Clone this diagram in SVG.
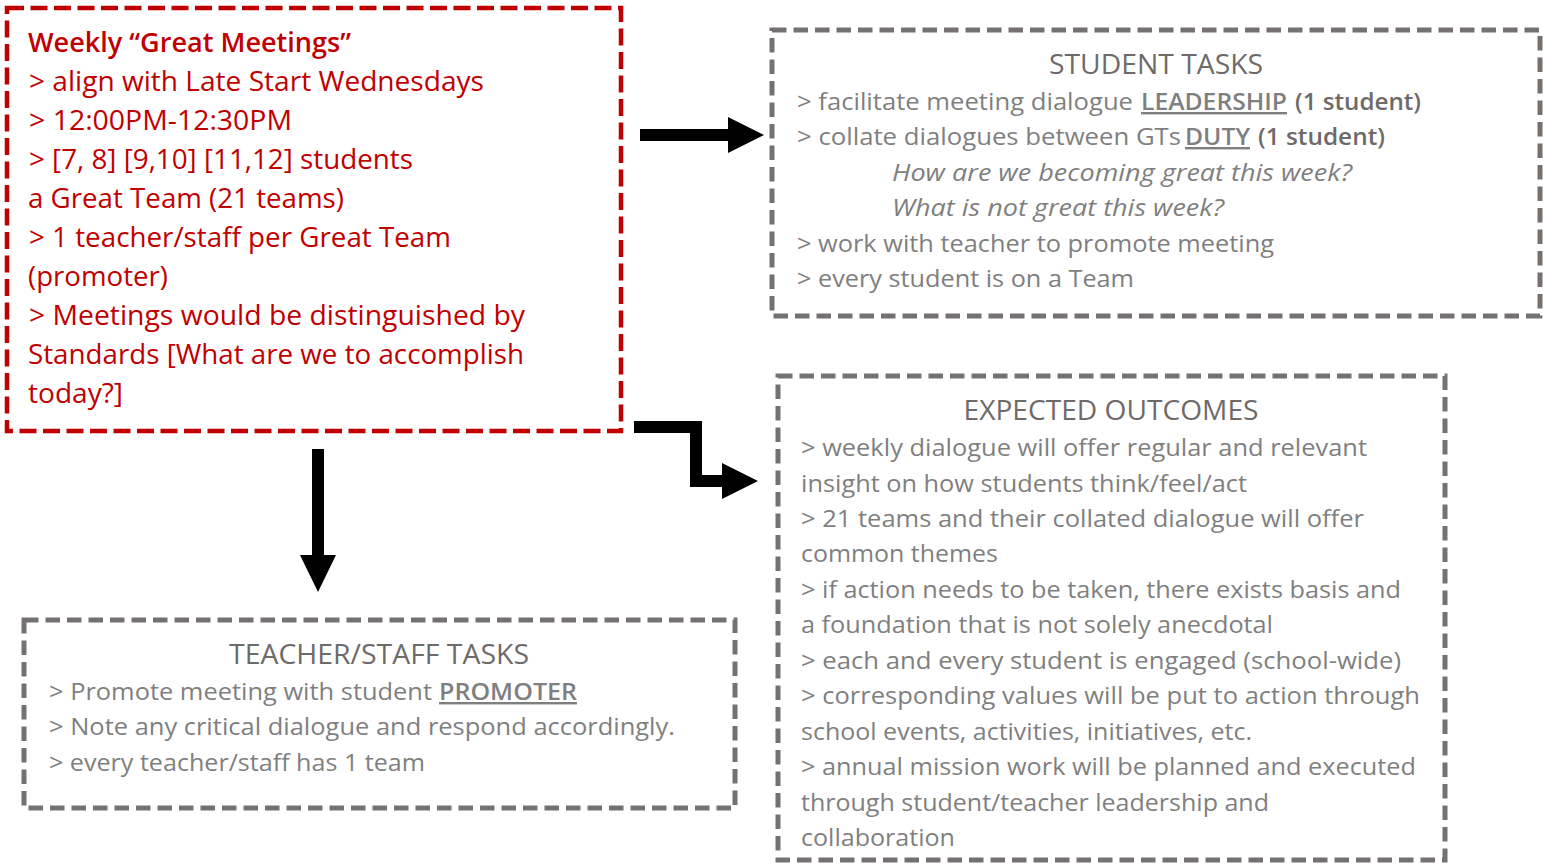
<svg xmlns="http://www.w3.org/2000/svg" width="1543" height="864" viewBox="0 0 1543 864">
<style>
text{font-family:"Open Sans","Noto Sans","Liberation Sans",sans-serif;}
.red{fill:#C00000;font-size:27px;}
.redb{fill:#C00000;font-size:27px;font-weight:600;}
.gt{fill:#6E6A6A;font-size:28px;}
.g{fill:#7F7F7F;font-size:24px;}
.gb{fill:#6E6A6A;font-size:24px;font-weight:600;}
.gu{fill:#7F7F7F;font-size:24px;font-weight:600;text-decoration:underline;}
.gi{fill:#7F7F7F;font-size:24px;font-style:italic;}
.boxr{fill:none;stroke:#C00000;stroke-width:4.5;stroke-dasharray:17 6.5;}
.boxg{fill:none;stroke:#767171;stroke-width:5;stroke-dasharray:14.5 7;}
.arrow{fill:#000;}
</style>
<rect width="1543" height="864" fill="#fff"/>
<g id="meetings">
<rect class="boxr" x="7" y="8" width="614" height="423"/>
<text class="redb" x="28" y="52" textLength="323" lengthAdjust="spacingAndGlyphs">Weekly “Great Meetings”</text>
<text class="red" x="29" y="91" textLength="455" lengthAdjust="spacingAndGlyphs">&gt; align with Late Start Wednesdays</text>
<text class="red" x="29" y="130" textLength="263" lengthAdjust="spacingAndGlyphs">&gt; 12:00PM-12:30PM</text>
<text class="red" x="29" y="169" textLength="384" lengthAdjust="spacingAndGlyphs">&gt; [7, 8] [9,10] [11,12] students</text>
<text class="red" x="28" y="208" textLength="316" lengthAdjust="spacingAndGlyphs">a Great Team (21 teams)</text>
<text class="red" x="29" y="247" textLength="422" lengthAdjust="spacingAndGlyphs">&gt; 1 teacher/staff per Great Team</text>
<text class="red" x="28" y="286" textLength="140" lengthAdjust="spacingAndGlyphs">(promoter)</text>
<text class="red" x="29" y="325" textLength="496" lengthAdjust="spacingAndGlyphs">&gt; Meetings would be distinguished by</text>
<text class="red" x="28" y="364" textLength="496" lengthAdjust="spacingAndGlyphs">Standards [What are we to accomplish</text>
<text class="red" x="28" y="403" textLength="95" lengthAdjust="spacingAndGlyphs">today?]</text>
</g>
<g id="student-tasks">
<rect class="boxg" x="772" y="30" width="768" height="286"/>
<text class="gt" x="1156" y="74" text-anchor="middle" textLength="214" lengthAdjust="spacingAndGlyphs">STUDENT TASKS</text>
<text class="g" x="797" y="110" textLength="336" lengthAdjust="spacingAndGlyphs">&gt; facilitate meeting dialogue</text>
<text class="gu" x="1141" y="110" textLength="146" lengthAdjust="spacingAndGlyphs">LEADERSHIP</text>
<text class="gb" x="1295" y="110" textLength="126" lengthAdjust="spacingAndGlyphs">(1 student)</text>
<text class="g" x="797" y="145" textLength="384" lengthAdjust="spacingAndGlyphs">&gt; collate dialogues between GTs</text>
<text class="gu" x="1185" y="145" textLength="65" lengthAdjust="spacingAndGlyphs">DUTY</text>
<text class="gb" x="1258" y="145" textLength="127" lengthAdjust="spacingAndGlyphs">(1 student)</text>
<text class="gi" x="892" y="181" textLength="460" lengthAdjust="spacingAndGlyphs">How are we becoming great this week?</text>
<text class="gi" x="892" y="216" textLength="332" lengthAdjust="spacingAndGlyphs">What is not great this week?</text>
<text class="g" x="797" y="252" textLength="477" lengthAdjust="spacingAndGlyphs">&gt; work with teacher to promote meeting</text>
<text class="g" x="797" y="287" textLength="337" lengthAdjust="spacingAndGlyphs">&gt; every student is on a Team</text>
</g>
<g id="expected-outcomes">
<rect class="boxg" x="778" y="376" width="667" height="484"/>
<text class="gt" x="1111" y="420" text-anchor="middle" textLength="295" lengthAdjust="spacingAndGlyphs">EXPECTED OUTCOMES</text>
<text class="g" x="801" y="456" textLength="566" lengthAdjust="spacingAndGlyphs">&gt; weekly dialogue will offer regular and relevant</text>
<text class="g" x="801" y="492" textLength="446" lengthAdjust="spacingAndGlyphs">insight on how students think/feel/act</text>
<text class="g" x="801" y="527" textLength="563" lengthAdjust="spacingAndGlyphs">&gt; 21 teams and their collated dialogue will offer</text>
<text class="g" x="801" y="562" textLength="197" lengthAdjust="spacingAndGlyphs">common themes</text>
<text class="g" x="801" y="598" textLength="600" lengthAdjust="spacingAndGlyphs">&gt; if action needs to be taken, there exists basis and</text>
<text class="g" x="801" y="633" textLength="472" lengthAdjust="spacingAndGlyphs">a foundation that is not solely anecdotal</text>
<text class="g" x="801" y="669" textLength="600" lengthAdjust="spacingAndGlyphs">&gt; each and every student is engaged (school-wide)</text>
<text class="g" x="801" y="704" textLength="619" lengthAdjust="spacingAndGlyphs">&gt; corresponding values will be put to action through</text>
<text class="g" x="801" y="740" textLength="451" lengthAdjust="spacingAndGlyphs">school events, activities, initiatives, etc.</text>
<text class="g" x="801" y="775" textLength="615" lengthAdjust="spacingAndGlyphs">&gt; annual mission work will be planned and executed</text>
<text class="g" x="801" y="811" textLength="468" lengthAdjust="spacingAndGlyphs">through student/teacher leadership and</text>
<text class="g" x="801" y="846" textLength="154" lengthAdjust="spacingAndGlyphs">collaboration</text>
</g>
<g id="teacher-tasks">
<rect class="boxg" x="24" y="620" width="711" height="188"/>
<text class="gt" x="379" y="664" text-anchor="middle" textLength="300" lengthAdjust="spacingAndGlyphs">TEACHER/STAFF TASKS</text>
<text class="g" x="49" y="700" textLength="383" lengthAdjust="spacingAndGlyphs">&gt; Promote meeting with student</text>
<text class="gu" x="439" y="700" textLength="138" lengthAdjust="spacingAndGlyphs">PROMOTER</text>
<text class="g" x="49" y="735" textLength="626" lengthAdjust="spacingAndGlyphs">&gt; Note any critical dialogue and respond accordingly.</text>
<text class="g" x="49" y="771" textLength="376" lengthAdjust="spacingAndGlyphs">&gt; every teacher/staff has 1 team</text>
</g>
<g id="connectors">
<polygon class="arrow" points="640,129 728,129 728,117 764,135 728,153 728,141 640,141"/>
<polygon class="arrow" points="634,421 702,421 702,475 722,475 722,463 758,481 722,499 722,487 690,487 690,433 634,433"/>
<polygon class="arrow" points="312,449 324,449 324,555 336,555 318,592 300,555 312,555"/>
</g>
</svg>
